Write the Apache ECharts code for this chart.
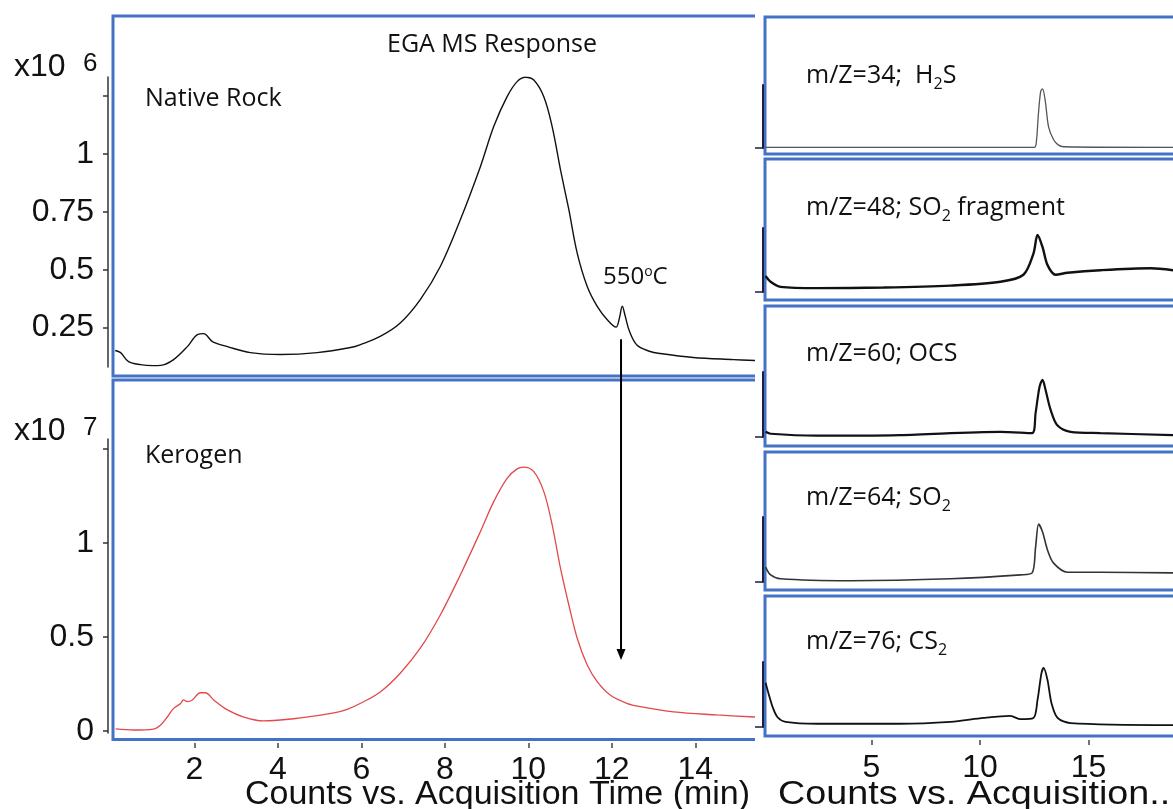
<!DOCTYPE html>
<html><head><meta charset="utf-8">
<script src="https://cdn.jsdelivr.net/npm/echarts@6/dist/echarts.min.js"></script>
<style>html,body{margin:0;padding:0;background:#fff}#c{width:1173px;height:809px}</style>
</head><body><div id="c"></div>
<script>
// ---- data (time in min, counts: top x10^6, bottom x10^7, right panels relative) ----
const nativeRock = [[0.1,0.151],[0.23,0.142],[0.42,0.103],[0.71,0.09],[1.0,0.086],[1.19,0.087],[1.5,0.112],[1.83,0.168],[2.07,0.22],[2.22,0.224],[2.43,0.19],[2.79,0.168],[3.34,0.142],[4.06,0.134],[4.94,0.142],[5.74,0.164],[5.98,0.177],[6.46,0.213],[6.93,0.270],[7.41,0.371],[7.89,0.514],[8.37,0.716],[8.85,0.945],[9.17,1.118],[9.49,1.247],[9.73,1.312],[9.93,1.331],[10.13,1.319],[10.37,1.247],[10.57,1.118],[10.77,0.931],[10.97,0.759],[11.17,0.572],[11.41,0.428],[11.65,0.342],[11.89,0.284],[12.1,0.252],[12.18,0.29],[12.25,0.342],[12.32,0.3],[12.42,0.235],[12.6,0.175],[12.9,0.148],[13.16,0.138],[13.95,0.121],[14.91,0.112],[15.43,0.108]];
const kerogen = [[0.11,0.011],[0.54,0.005],[1.02,0.01],[1.19,0.032],[1.35,0.074],[1.5,0.12],[1.66,0.144],[1.74,0.165],[1.83,0.156],[1.95,0.165],[2.14,0.203],[2.26,0.203],[2.46,0.165],[2.79,0.112],[3.18,0.074],[3.65,0.053],[4.54,0.069],[5.34,0.096],[5.66,0.115],[5.98,0.147],[6.46,0.209],[6.93,0.307],[7.41,0.44],[7.89,0.617],[8.37,0.83],[8.85,1.06],[9.17,1.22],[9.49,1.344],[9.73,1.394],[9.89,1.403],[10.13,1.379],[10.37,1.273],[10.57,1.096],[10.77,0.865],[10.97,0.67],[11.17,0.493],[11.41,0.351],[11.65,0.262],[11.96,0.191],[12.36,0.147],[12.68,0.129],[13.48,0.101],[14.52,0.085],[15.43,0.074]];
const mz34 = [[0.12,0.01],[6,0.01],[12.5,0.01],[12.6,0.12],[12.68,0.5],[12.79,0.89],[12.88,0.94],[13.0,0.76],[13.16,0.33],[13.39,0.13],[13.6,0.05],[13.85,0.02],[18.9,0.01]];
const mz48 = [[0.12,0.25],[0.35,0.16],[0.81,0.08],[2.5,0.06],[5.55,0.07],[8.64,0.1],[10.94,0.16],[12.0,0.27],[12.46,0.6],[12.65,0.89],[12.88,0.7],[13.11,0.42],[13.48,0.27],[14.03,0.3],[15.55,0.34],[17.86,0.37],[18.9,0.34]];
const mz60 = [[0.12,0.08],[0.35,0.05],[2.5,0.02],[6.3,0.03],[10.94,0.08],[12.4,0.06],[12.56,0.37],[12.74,0.77],[12.88,0.88],[13.0,0.75],[13.25,0.42],[13.56,0.18],[14.17,0.08],[15.55,0.06],[18.9,0.03]];
const mz64 = [[0.12,0.23],[0.35,0.11],[0.81,0.05],[4.0,0.02],[8.64,0.05],[11.87,0.11],[12.4,0.14],[12.56,0.54],[12.7,0.89],[12.88,0.77],[13.11,0.49],[13.39,0.29],[14.03,0.15],[15.55,0.15],[18.9,0.14]];
const mz76 = [[0.12,0.68],[0.25,0.52],[0.44,0.31],[0.67,0.15],[1.04,0.08],[2.5,0.05],[6.3,0.05],[8.64,0.08],[10.17,0.14],[11.4,0.17],[11.87,0.12],[12.46,0.14],[12.65,0.42],[12.83,0.83],[12.93,0.91],[13.11,0.72],[13.29,0.37],[13.57,0.14],[14.17,0.06],[18.9,0.03]];

const nativeTickMarks = [0.25, 0.5, 0.75, 1, 1.25];
const nativeTickLabels = [0.25, 0.5, 0.75, 1];
const kerogenTickMarks = [0, 0.5, 1, 1.5];
const kerogenTickLabels = [0, 0.5, 1];
const leftTimeTicks = [2, 4, 6, 8, 10, 12, 14];
const rightTimeTicks = [5, 10, 15];
const panelLabels = [
  ['m/Z=34;  H', '2', 'S'],
  ['m/Z=48; SO', '2', ' fragment'],
  ['m/Z=60; OCS', '', ''],
  ['m/Z=64; SO', '2', ''],
  ['m/Z=76; CS', '2', '']
];
const arrowTime = 12.22;

// ---- layout ----
const BLUE = '#4472c4';
const AX = '#333';
const NUM_FONT = 'Liberation Sans';
const LBL_FONT = 'Open Sans';
const TICK_SIZE = 32;
const leftMax = 15.43, rightMax = 18.89;
const gridBoxes = [
  {left:111, right:418, top:77, bottom:442},
  {left:111, right:418, top:439, bottom:76},
  {left:763, right:0, top:85, bottom:661},
  {left:763, right:0, top:228, bottom:517},
  {left:763, right:0, top:372, bottom:372},
  {left:763, right:0, top:517, bottom:227},
  {left:763, right:0, top:662, bottom:82}
];
const rightSeries = [mz34, mz48, mz60, mz64, mz76];
const rightStyles = [
  {color:'#555', width:1.3},
  {color:'#111', width:2.4},
  {color:'#111', width:2.2},
  {color:'#333', width:1.6},
  {color:'#111', width:1.8}
];
const labelY = [76, 208, 354, 498, 642];
const frameTops = [[17,154],[159,300],[306,446],[452,590],[596,736]];

const grid = gridBoxes.map(g => Object.assign({containLabel:false, outerBoundsMode:'none', show:false}, g));

const xAxis = [], yAxis = [], series = [];
// top-left
xAxis.push({type:'value', gridIndex:0, min:0, max:leftMax, show:false});
yAxis.push({type:'value', gridIndex:0, min:0.08, max:1.332, offset:3,
  axisLine:{show:true, onZero:false, lineStyle:{color:AX, width:1.5}},
  axisTick:{show:true, length:5, customValues:nativeTickMarks, lineStyle:{color:AX, width:1.5}},
  axisLabel:{show:true, customValues:nativeTickLabels, fontSize:TICK_SIZE, fontFamily:NUM_FONT, color:'#111', margin:14},
  splitLine:{show:false}});
// bottom-left
xAxis.push({type:'value', gridIndex:1, min:0, max:leftMax, offset:10,
  axisLine:{show:false, onZero:false},
  axisTick:{show:true, length:5, customValues:leftTimeTicks, lineStyle:{color:'#444', width:1.5}},
  axisLabel:{show:true, customValues:leftTimeTicks, fontSize:TICK_SIZE, fontFamily:NUM_FONT, color:'#111', margin:11},
  splitLine:{show:false}});
yAxis.push({type:'value', gridIndex:1, min:-0.011, max:1.553, offset:3,
  axisLine:{show:true, onZero:false, lineStyle:{color:AX, width:1.5}},
  axisTick:{show:true, length:5, customValues:kerogenTickMarks, lineStyle:{color:AX, width:1.5}},
  axisLabel:{show:true, customValues:kerogenTickLabels, fontSize:TICK_SIZE, fontFamily:NUM_FONT, color:'#111', margin:14},
  splitLine:{show:false}});
series.push({type:'line', xAxisIndex:0, yAxisIndex:0, data:nativeRock, symbol:'none', showSymbol:false, smooth:0.35, lineStyle:{color:'#111', width:1.4}, silent:true, z:5});
series.push({type:'line', xAxisIndex:1, yAxisIndex:1, data:kerogen, symbol:'none', showSymbol:false, smooth:0.35, lineStyle:{color:'#e2494a', width:1.3}, silent:true, z:5});
// right panels
rightSeries.forEach((d, i) => {
  const gi = i + 2;
  const last = i === rightSeries.length - 1;
  xAxis.push(last ? {type:'value', gridIndex:gi, min:0, max:rightMax, offset:13,
      axisLine:{show:false, onZero:false},
      axisTick:{show:true, length:5, customValues:rightTimeTicks, lineStyle:{color:'#444', width:1.5}},
      axisLabel:{show:true, customValues:rightTimeTicks, fontSize:TICK_SIZE, fontFamily:NUM_FONT, color:'#111', margin:12},
      splitLine:{show:false}}
    : {type:'value', gridIndex:gi, min:0, max:rightMax, show:false});
  yAxis.push({type:'value', gridIndex:gi, min:0, max:1,
    axisLine:{show:true, onZero:false, lineStyle:{color:'#1e1e40', width:2}},
    axisTick:{show:true, length:8, customValues:[0], lineStyle:{color:'#1e1e40', width:1.5}},
    axisLabel:{show:false}, splitLine:{show:false}});
  series.push({type:'line', xAxisIndex:gi, yAxisIndex:gi, data:d, symbol:'none', showSymbol:false, smooth:0.3, lineStyle:rightStyles[i], silent:true, z:5});
});

// ---- decorations ----
const noFill = 'rgba(0,0,0,0)';
const graphics = [
  {type:'polyline', id:'fTL', silent:true, shape:{points:[[755,16],[113,16],[113,376],[755,376]]}, style:{stroke:BLUE, lineWidth:3, fill:noFill}},
  {type:'polyline', id:'fBL', silent:true, shape:{points:[[755,380],[113,380],[113,739.5],[755,739.5]]}, style:{stroke:BLUE, lineWidth:3, fill:noFill}}
];
frameTops.forEach((f, i) => {
  graphics.push({type:'rect', id:'fR'+i, silent:true, shape:{x:765, y:f[0], width:500, height:f[1]-f[0]}, style:{stroke:BLUE, lineWidth:3, fill:noFill}});
});
function txt(id, x, y, text, size, family, extra) {
  return Object.assign({type:'text', id, x, y, silent:true, z:20,
    style:{text, fontSize:size, fontFamily:family, fill:'#111', align:'left', verticalAlign:'middle', textAlign:'left', textVerticalAlign:'middle'}}, extra || {});
}
graphics.push(txt('t_x10a', 14, 67, 'x10', 32, NUM_FONT));
graphics.push(txt('t_e6', 83, 64, '6', 26, NUM_FONT));
graphics.push(txt('t_x10b', 14, 431, 'x10', 32, NUM_FONT));
graphics.push(txt('t_e7', 83, 428, '7', 26, NUM_FONT));
graphics.push(txt('t_nr', 145, 99, 'Native Rock', 25, LBL_FONT));
graphics.push(txt('t_ega', 387, 45, 'EGA MS Response', 25, LBL_FONT));
graphics.push(txt('t_ker', 145, 456, 'Kerogen', 25, LBL_FONT));
graphics.push({type:'text', id:'t_550', x:603, y:277, silent:true, z:20,
  style:{text:'{n|550}{s|o}{n|C}', align:'left', verticalAlign:'middle', textAlign:'left', textVerticalAlign:'middle',
    rich:{n:{fontSize:24, fontFamily:LBL_FONT, fill:'#111', color:'#111', lineHeight:24}, s:{fontSize:14, fontFamily:LBL_FONT, fill:'#111', color:'#111', lineHeight:14, verticalAlign:'top'}}}});
panelLabels.forEach((p, i) => {
  let t = '{n|' + p[0] + '}';
  if (p[1]) t += '{s|' + p[1] + '}';
  if (p[2]) t += '{n|' + p[2] + '}';
  graphics.push({type:'text', id:'t_mz'+i, x:806, y:labelY[i], silent:true, z:20,
    style:{text:t, align:'left', verticalAlign:'middle', textAlign:'left', textVerticalAlign:'middle',
      rich:{n:{fontSize:25, fontFamily:LBL_FONT, fill:'#111', color:'#111', lineHeight:32}, s:{fontSize:16, fontFamily:LBL_FONT, fill:'#111', color:'#111', lineHeight:16, verticalAlign:'bottom'}}}});
});
graphics.push(txt('t_cl', 245, 795, 'Counts vs. Acquisition Time (min)', 34, NUM_FONT));
graphics.push(txt('t_cr', 778, 795, 'Counts vs. Acquisition..', 34, NUM_FONT, {scaleX:1.11}));

const chart = echarts.init(document.getElementById('c'));
chart.setOption({animation:false, backgroundColor:'#fff', grid, xAxis, yAxis, series, graphic:graphics});

// arrow from the 550 C spike down into the kerogen panel
const pTop = chart.convertToPixel({gridIndex:0}, [arrowTime, 0.2]);
const pBot = chart.convertToPixel({gridIndex:1}, [arrowTime, 0.378]);
const arrow = [
  {type:'line', id:'arLine', silent:true, z:15, shape:{x1:pTop[0], y1:pTop[1], x2:pBot[0], y2:pBot[1]-8}, style:{stroke:'#000', lineWidth:2}},
  {type:'polygon', id:'arHead', silent:true, z:15, shape:{points:[[pBot[0]-4.5, pBot[1]-11],[pBot[0]+4.5, pBot[1]-11],[pBot[0], pBot[1]]]}, style:{fill:'#000'}}
];
chart.setOption({graphic: graphics.concat(arrow)});
</script>
</body></html>
